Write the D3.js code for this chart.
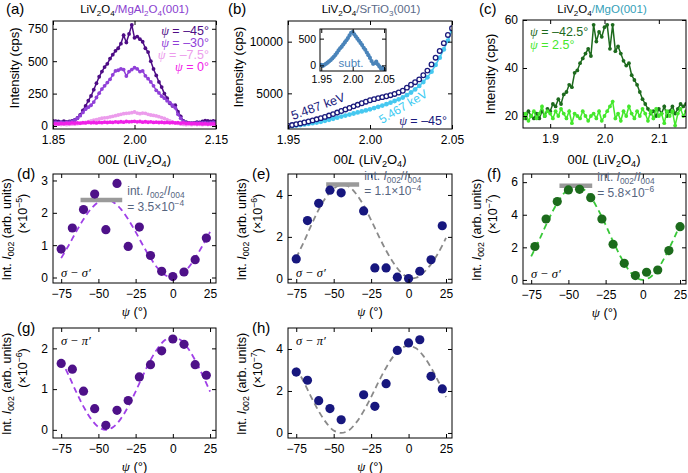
<!DOCTYPE html>
<html><head><meta charset="utf-8">
<script src="https://cdn.jsdelivr.net/npm/d3@7"></script>
<style>body{margin:0;background:#fff}svg{display:block}text{font-family:"Liberation Sans",Arial,Helvetica,sans-serif}</style>
</head><body><svg id="c" width="688" height="473"></svg>
<script>
// ---------------- DATA ----------------
// (a) LiV2O4/MgAl2O4 : 00L scans
const L_a = [1.850,1.855,1.860,1.865,1.870,1.875,1.880,1.885,1.890,1.895,
 1.900,1.905,1.910,1.915,1.920,1.925,1.930,1.935,1.940,1.945,
 1.950,1.955,1.960,1.965,1.970,1.975,1.980,1.985,1.990,1.995,
 2.000,2.005,2.010,2.015,2.020,2.025,2.030,2.035,2.040,2.045,
 2.050,2.055,2.060,2.065,2.070,2.075,2.080,2.085,2.090,2.095,
 2.100,2.105,2.110,2.115,2.120,2.125,2.130,2.135,2.140,2.145,2.150];
const a_psiM45 = [40,38,35,30,38,32,35,40,48,62,
 85,120,155,195,232,280,330,380,420,455,
 480,520,550,580,600,635,700,645,710,780,
 680,690,670,650,600,570,500,440,390,340,
 300,250,215,175,155,160,110,75,40,30,
 25,22,25,30,28,35,42,40,35,40,35];
const a_psiM30 = [30,28,25,30,25,28,30,35,45,60,
 80,105,130,145,160,185,220,253,285,310,
 335,360,395,425,430,440,435,385,420,435,
 450,440,420,425,387,365,340,310,275,255,
 230,215,195,180,160,140,90,60,35,25,
 20,22,20,25,22,25,25,22,25,28,25];
const a_psiM7 = [12,10,14,11,13,10,12,15,14,18,
 20,24,28,34,40,45,50,55,60,63,
 65,70,75,80,85,90,95,98,100,103,
 108,100,95,100,98,90,85,82,78,72,
 65,58,50,40,30,25,20,15,12,10,
 12,10,13,11,12,10,13,11,12,10,11];
const a_psi0 = [15,18,16,20,18,22,20,24,22,25,
 22,26,24,28,25,27,24,28,26,30,
 27,30,28,32,29,33,30,35,32,34,
 36,32,35,30,33,29,32,28,30,27,
 29,26,28,25,27,24,26,22,25,20,
 22,18,20,17,19,16,18,15,17,16,15];
const a_legend = ["–45°","–30°","–7.5°","0°"];

// (b) LiV2O4/SrTiO3 : 00L scans at two energies + subtracted inset
const L_b = [1.9500,1.9525,1.9550,1.9575,1.9600,1.9625,1.9650,1.9675,1.9700,1.9725,
 1.9750,1.9775,1.9800,1.9825,1.9850,1.9875,1.9900,1.9925,1.9950,1.9975,
 2.0000,2.0025,2.0050,2.0075,2.0100,2.0125,2.0150,2.0175,2.0200,2.0225,
 2.0250,2.0275,2.0300,2.0325,2.0350,2.0375,2.0400,2.0425,2.0450,2.0475,2.0500];
const b_5487 = [1850,1930,2010,2090,2180,2280,2380,2490,2600,2720,
 2850,2990,3140,3290,3440,3590,3740,3890,4040,4190,
 4330,4440,4540,4630,4720,4820,4940,5080,5250,5550,
 5830,6080,6350,6750,7200,7800,8450,9100,9850,10650,11300];
const b_5467 = [1780,1830,1880,1930,1990,2050,2110,2180,2250,2340,
 2440,2540,2650,2750,2850,2950,3050,3150,3250,3350,
 3450,3570,3700,3820,3950,4100,4260,4420,4600,4820,
 5080,5380,5720,6100,6550,7100,7750,8450,9250,10100,11100];
const b_subt = [10,-10,10,30,50,75,100,130,160,195,
 235,280,320,350,390,430,470,510,560,610,
 620,580,540,500,460,420,380,330,290,240,
 190,140,80,30,40,70,20,-20,-60,-40,-70];

// (c) LiV2O4/MgO : 00L scans
const L_c = L_a;
const c_psiM425 = [21,19,22,20,19,21,19,22,20,23,
 22,25,24,27,25,29,30,33,32,38,
 39,42,44,46,48,45,58,51,55,53,
 57,58,48,58,47,49,46,43,41,42,
 37,35,33,30,27,25,23,21,22,20,
 23,21,24,20,22,24,21,23,25,24,25];
const c_psi25 = [19,21,18,20,22,19,21,24,20,22,
 21,19,22,20,23,21,19,22,17,21,
 20,19,22,20,18,20,21,19,22,18,
 20,22,24,26,19,21,18,22,20,24,
 21,19,22,20,23,21,18,22,19,23,
 20,21,17,22,20,22,16,21,23,20,22];

// azimuthal dependences (d)-(h)
const psi_d = [-75,-67.5,-60,-52.5,-45,-37.5,-30,-22.5,-15,-7.5,0,7.5,15,22.5];
const int_d = [0.88,1.53,2.10,2.58,1.48,2.91,0.96,1.56,0.68,0.19,0.03,0.17,0.55,1.22];
const psi_e = [-75,-67.5,-60,-52.5,-45,-30,-22.5,-15,-7.5,0,7.5,15,22.5];
const int_e = [0.95,2.78,3.60,4.23,4.10,3.24,0.52,0.52,0.08,0.01,0.36,0.91,2.53];
const psi_f = [-72.5,-65,-57.5,-50,-42.5,-35,-27.5,-20,-12.5,-5,2.5,10,17.5,25];
const int_f = [2.05,3.74,4.81,5.52,5.56,5.05,3.74,2.19,1.02,0.27,0.47,0.61,1.80,3.27];
const psi_g = psi_d;
const int_g = [1.63,1.49,0.95,0.52,0.11,0.48,0.72,1.30,1.60,1.94,2.23,2.10,1.60,1.34];
const psi_h = psi_e;
const int_h = [2.90,2.51,1.54,1.16,0.63,1.82,1.27,2.35,3.93,4.29,4.44,2.70,2.10];

// fitted curves
const psi_fit = [-75,-70,-65,-60,-55,-50,-45,-40,-35,-30,-25,-20,-15,-10,-5,0,5,10,15,20,25];
const fit_d = [0.60,0.99,1.41,1.80,2.12,2.33,2.40,2.33,2.12,1.80,1.41,0.99,0.60,0.28,0.07,0,0.07,0.28,0.60,0.99,1.41];
const fit_e = [1.00,1.75,2.55,3.30,3.90,4.30,4.48,4.40,4.05,3.50,2.80,2.05,1.35,0.75,0.30,0.05,0.05,0.30,0.70,1.25,1.95];
const fit_f = [1.44,2.37,3.38,4.31,5.08,5.58,5.75,5.58,5.08,4.31,3.38,2.37,1.44,0.67,0.17,0,0.17,0.67,1.44,2.37,3.38];
const fit_g = [1.71,1.34,0.94,0.57,0.27,0.07,0,0.07,0.27,0.57,0.94,1.34,1.71,2.01,2.21,2.28,2.21,2.01,1.71,1.34,0.94];
const fit_h = [3.11,2.44,1.71,1.04,0.49,0.12,0,0.12,0.49,1.04,1.71,2.44,3.11,3.66,4.03,4.15,4.03,3.66,3.11,2.44,1.71];

// integrated ratio bars: [psi start, psi end, level]
const bar_d = [-62,-34,2.4];
const bar_e = [-55,-33,4.5];
const bar_f = [-56,-34,5.78];
const ratio_d = "3.5×10", exp_d = "−4";
const ratio_e = "1.1×10", exp_e = "−4";
const ratio_f = "5.8×10", exp_f = "−6";

// ---------------- DRAWING ----------------
const SERIF = '"Liberation Serif", "DejaVu Serif", serif';
const svg = d3.select('#c');
const defs = svg.append('defs');

function rich(parent, x, y, segs, o = {}) {
  const size = o.size || 12;
  const t = parent.append('text').attr('x', x).attr('y', y).attr('font-size', size)
    .attr('text-anchor', o.anchor || 'start').attr('fill', o.fill || '#000');
  if (o.rotate) t.attr('transform', `rotate(${o.rotate},${x},${y})`);
  let cur = 0;
  segs.forEach(s => {
    if (typeof s === 'string') s = {t: s};
    const off = s.sub ? size * 0.24 : s.sup ? -size * 0.38 : 0;
    const sp = t.append('tspan').text(s.t).attr('dy', off - cur);
    cur = off;
    if (s.sub || s.sup) sp.attr('font-size', size * 0.7);
    if (s.i) sp.attr('font-style', 'italic');
    if (s.serif) sp.attr('font-family', SERIF);
    if (s.fill) sp.attr('fill', s.fill);
  });
  return t;
}

let clipN = 0;
function makePanel(p) {
  const g = svg.append('g');
  const x = d3.scaleLinear().domain(p.xd).range([p.x0, p.x1]);
  const y = d3.scaleLinear().domain(p.yd).range([p.y1, p.y0]);
  const id = 'clp' + (clipN++);
  defs.append('clipPath').attr('id', id).append('rect')
    .attr('x', p.x0).attr('y', p.y0).attr('width', p.x1 - p.x0).attr('height', p.y1 - p.y0);
  if (p.bg) g.append('rect').attr('x', p.x0).attr('y', p.y0).attr('width', p.x1 - p.x0).attr('height', p.y1 - p.y0).attr('fill', '#fff');
  const plot = g.append('g').attr('clip-path', `url(#${id})`);
  const fs = p.fs || 12;
  const ax = (gen, tr, ticks, fmt, pad) => {
    const a = g.append('g').attr('transform', tr)
      .call(gen.tickValues(ticks).tickSize(-4).tickSizeOuter(0).tickPadding(pad).tickFormat(fmt));
    a.select('.domain').remove();
    a.attr('font-size', null).attr('font-family', null);
    a.selectAll('text').attr('font-size', fs).attr('fill', '#000');
    a.selectAll('line').attr('stroke', '#000');
  };
  ax(d3.axisBottom(x), `translate(0,${p.y1})`, p.xt, p.xf, p.xpad || 6);
  ax(d3.axisTop(x), `translate(0,${p.y0})`, p.xt, () => '', 0);
  ax(d3.axisLeft(y), `translate(${p.x0},0)`, p.yt, p.yf, p.ypad || 5);
  ax(d3.axisRight(y), `translate(${p.x1},0)`, p.yt, () => '', 0);
  g.append('rect').attr('x', p.x0).attr('y', p.y0).attr('width', p.x1 - p.x0).attr('height', p.y1 - p.y0)
    .attr('fill', 'none').attr('stroke', '#000').attr('stroke-width', 1);
  return {g, plot, x, y};
}

function lineSeries(P, xs, ys, color, r, w) {
  const pts = xs.map((v, i) => [v, ys[i]]);
  P.plot.append('path').datum(pts).attr('fill', 'none').attr('stroke', color).attr('stroke-width', w)
    .attr('d', d3.line().x(d => P.x(d[0])).y(d => P.y(d[1])));
  P.plot.append('g').selectAll('circle').data(pts).join('circle')
    .attr('cx', d => P.x(d[0])).attr('cy', d => P.y(d[1])).attr('r', r).attr('fill', color);
}

const fmt2 = d3.format('.2f'), fmt1 = d3.format('.1f'), fmtI = d3.format('d');
const subLiV = ['LiV', {t: '2', sub: 1}, 'O', {t: '4', sub: 1}];
const xTitleL = ['00', {t: 'L', i: 1}, ' (LiV', {t: '2', sub: 1}, 'O', {t: '4', sub: 1}, ')'];
const psiTitle = [{t: 'ψ', i: 1, serif: 1}, ' (°)'];

// ===== (a) =====
const cA = ['#4d0c85', '#9040d8', '#ec9cec', '#f020e8'];
const PA = makePanel({x0: 53, x1: 216, y0: 21, y1: 129, xd: [1.85, 2.15], yd: [-23, 810],
  xt: [1.85, 2.00, 2.15], xf: fmt2, yt: [0, 250, 500, 750], yf: fmtI});
[a_psiM45, a_psiM30, a_psiM7, a_psi0].forEach((s, i) => lineSeries(PA, L_a, s, cA[i], 1.9, 1.5));
a_legend.forEach((t, i) => rich(svg, 209, 34.5 + i * 12.3, [{t: 'ψ', i: 1, serif: 1}, ' = ' + t], {size: 12.5, anchor: 'end', fill: cA[i]}));
rich(svg, 134.5, 13, [...subLiV, {t: '/MgAl', fill: '#8a40d0'}, {t: '2', sub: 1, fill: '#8a40d0'}, {t: 'O', fill: '#8a40d0'}, {t: '4', sub: 1, fill: '#8a40d0'}, {t: '(001)', fill: '#8a40d0'}], {size: 11.5, anchor: 'middle'});
rich(svg, 19, 68, ['Intensity (cps)'], {size: 13, anchor: 'middle', rotate: -90});
rich(svg, 134.5, 164, xTitleL, {size: 13, anchor: 'middle'});
svg.append('text').attr('x', 6).attr('y', 14).attr('font-size', 15).text('(a)');

// ===== (b) =====
const PB = makePanel({x0: 288, x1: 452, y0: 21, y1: 129, xd: [1.95, 2.05], yd: [1550, 12000],
  xt: [1.95, 2.00, 2.05], xf: fmt2, yt: [5000, 10000], yf: fmtI});
{
  const p1 = L_b.map((v, i) => [v, b_5467[i]]);
  PB.plot.append('path').datum(p1).attr('fill', 'none').attr('stroke', '#45c8f0').attr('stroke-width', 1.5)
    .attr('d', d3.line().x(d => PB.x(d[0])).y(d => PB.y(d[1])));
  PB.plot.append('g').selectAll('circle').data(p1).join('circle')
    .attr('cx', d => PB.x(d[0])).attr('cy', d => PB.y(d[1])).attr('r', 2.4).attr('fill', '#45c8f0');
  const p2 = L_b.map((v, i) => [v, b_5487[i]]);
  PB.plot.append('g').selectAll('circle').data(p2).join('circle')
    .attr('cx', d => PB.x(d[0])).attr('cy', d => PB.y(d[1])).attr('r', 2.3)
    .attr('fill', '#fff').attr('stroke', '#1a1a7c').attr('stroke-width', 1.3);
}
rich(svg, 293, 120, ['5.487 keV'], {size: 12.5, fill: '#1a1a7c', rotate: -20});
rich(svg, 382, 124, ['5.467 keV'], {size: 12, fill: '#3ccaf2', rotate: -31});
rich(svg, 447, 124.5, [{t: 'ψ', i: 1, serif: 1}, ' = –45°'], {size: 12.5, anchor: 'end', fill: '#1a1a7c'});
// inset
const PI = makePanel({x0: 320, x1: 386, y0: 29, y1: 71, xd: [1.948, 2.053], yd: [-105, 680], bg: 1,
  xt: [1.95, 2.00, 2.05], xf: fmt2, yt: [0, 500], yf: fmtI, fs: 10.5, xpad: 5, ypad: 4});
lineSeries(PI, L_b, b_subt, '#4a84ba', 2.1, 1.3);
rich(svg, 351, 67, ['subt.'], {size: 11.5, anchor: 'middle', fill: '#4a84ba'});
rich(svg, 371, 13, [...subLiV, {t: '/SrTiO', fill: '#5a6a88'}, {t: '3', sub: 1, fill: '#5a6a88'}, {t: '(001)', fill: '#5a6a88'}], {size: 11.5, anchor: 'middle'});
rich(svg, 243, 67, ['Intensity (cps)'], {size: 13, anchor: 'middle', rotate: -90});
rich(svg, 370, 164, xTitleL, {size: 13, anchor: 'middle'});
svg.append('text').attr('x', 228).attr('y', 14).attr('font-size', 15).text('(b)');

// ===== (c) =====
const cC = ['#1d6a1d', '#44e82c'];
const PC = makePanel({x0: 523, x1: 686, y0: 20, y1: 128, xd: [1.85, 2.15], yd: [15, 60],
  xt: [1.9, 2.0, 2.1], xf: fmt1, yt: [20, 40, 60], yf: fmtI});
lineSeries(PC, L_c, c_psiM425, cC[0], 1.9, 1.5);
lineSeries(PC, L_c, c_psi25, cC[1], 1.9, 1.5);
rich(svg, 530, 36, [{t: 'ψ', i: 1, serif: 1}, ' = –42.5°'], {size: 12.5, fill: cC[0]});
rich(svg, 530, 48.5, [{t: 'ψ', i: 1, serif: 1}, ' = 2.5°'], {size: 12.5, fill: cC[1]});
rich(svg, 602, 13, [...subLiV, {t: '/MgO(001)', fill: '#33a0b8'}], {size: 11.5, anchor: 'middle'});
rich(svg, 495, 74, ['Intensity (cps)'], {size: 13, anchor: 'middle', rotate: -90});
rich(svg, 604, 164, xTitleL, {size: 13, anchor: 'middle'});
svg.append('text').attr('x', 479).attr('y', 14).attr('font-size', 15).text('(c)');

// ===== azimuth panels =====
const psiXd = [-80.5, 29];
const psiTicks = [-75, -50, -25, 0, 25];
function azPanel(o) {
  const P = makePanel({x0: o.x0, x1: o.x1, y0: o.y0, y1: o.y1, xd: psiXd, yd: o.yd,
    xt: psiTicks, xf: fmtI, yt: o.yt, yf: fmtI});
  const fitPts = psi_fit.map((v, i) => [v, o.fit[i]]);
  P.plot.append('path').datum(fitPts).attr('fill', 'none').attr('stroke', o.fitColor)
    .attr('stroke-width', 1.8).attr('stroke-dasharray', '6,4')
    .attr('d', d3.line().curve(d3.curveCatmullRom).x(d => P.x(d[0])).y(d => P.y(d[1])));
  if (o.bar) {
    P.plot.append('line').attr('x1', P.x(o.bar[0])).attr('x2', P.x(o.bar[1]))
      .attr('y1', P.y(o.bar[2])).attr('y2', P.y(o.bar[2])).attr('stroke', '#9a9a9a').attr('stroke-width', 4.5);
  }
  P.plot.append('g').selectAll('circle').data(o.psi.map((v, i) => [v, o.val[i]])).join('circle')
    .attr('cx', d => P.x(d[0])).attr('cy', d => P.y(d[1])).attr('r', 4.6).attr('fill', o.color);
  const cx = (o.x0 + o.x1) / 2;
  rich(svg, cx, o.y1 + 33, psiTitle, {size: 13, anchor: 'middle'});
  rich(svg, o.x0 - 42, (o.y0 + o.y1) / 2 + 1, ['Int. ', {t: 'I', i: 1}, {t: '002', sub: 1}, ' (arb. units)'], {size: 12.5, anchor: 'middle', rotate: -90});
  rich(svg, o.x0 - 26, (o.y0 + o.y1) / 2 - 15, ['(×10', {t: o.expo, sup: 1}, ')'], {size: 12.5, anchor: 'middle', rotate: -90});
  svg.append('text').attr('x', o.x0 - 36).attr('y', o.y0 + 5).attr('font-size', 15).text(o.letter);
  const pol = o.pi ? 'σ − π′' : 'σ − σ′';
  rich(svg, o.x0 + 8, o.pi ? o.y0 + 17 : o.y1 - 6, [{t: pol, i: 1, serif: 1}], {size: 12.5});
  if (o.ratio) {
    const tx = P.x(o.bar[1]) + 5, ty = P.y(o.bar[2]);
    rich(svg, tx, ty - 4.5, ['int. ', {t: 'I', i: 1}, {t: '002', sub: 1}, '/', {t: 'I', i: 1}, {t: '004', sub: 1}], {size: 12, fill: '#56657f'});
    rich(svg, tx, ty + 11, ['= ' + o.ratio, {t: o.rexp, sup: 1}], {size: 12, fill: '#56657f'});
  }
  return P;
}
azPanel({x0: 53, x1: 216, y0: 174, y1: 283, yd: [-0.17, 3.2], yt: [0, 1, 2, 3], psi: psi_d, val: int_d,
  fit: fit_d, color: '#4e1189', fitColor: '#a040e8', bar: bar_d, ratio: ratio_d, rexp: exp_d, expo: '−5', letter: '(d)'});
azPanel({x0: 288, x1: 452, y0: 174, y1: 283, yd: [-0.2, 5], yt: [0, 2, 4], psi: psi_e, val: int_e,
  fit: fit_e, color: '#17177e', fitColor: '#8a8a8a', bar: bar_e, ratio: ratio_e, rexp: exp_e, expo: '−6', letter: '(e)'});
azPanel({x0: 523, x1: 686, y0: 174, y1: 284, yd: [-0.25, 6.5], yt: [0, 2, 4, 6], psi: psi_f, val: int_f,
  fit: fit_f, color: '#1c6b1c', fitColor: '#38c838', bar: bar_f, ratio: ratio_f, rexp: exp_f, expo: '−7', letter: '(f)'});
azPanel({x0: 53, x1: 216, y0: 328, y1: 438, yd: [-0.2, 2.5], yt: [0, 1, 2], psi: psi_g, val: int_g,
  fit: fit_g, color: '#4e1189', fitColor: '#a040e8', expo: '−6', letter: '(g)', pi: 1});
azPanel({x0: 288, x1: 452, y0: 328, y1: 438, yd: [-0.24, 5], yt: [0, 2, 4], psi: psi_h, val: int_h,
  fit: fit_h, color: '#17177e', fitColor: '#8a8a8a', expo: '−7', letter: '(h)', pi: 1});
</script></body></html>
